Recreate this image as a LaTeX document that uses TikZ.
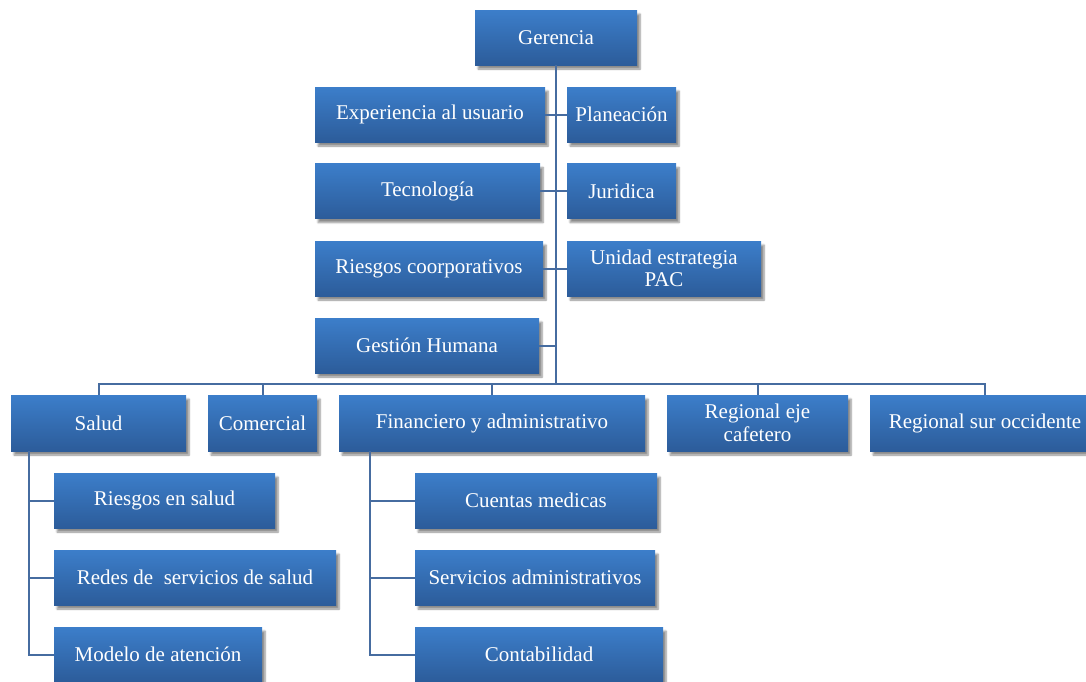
\documentclass[tikz,border=0pt]{standalone}
\usepackage{fontspec}
\setmainfont{Liberation Serif}
\usetikzlibrary{shadows.blur}
\definecolor{boxtop}{RGB}{60,126,202}
\definecolor{boxbot}{RGB}{44,92,154}
\definecolor{linkcol}{RGB}{70,108,160}
\tikzset{
  unit/.style={box, minimum height=55pt},
  box/.style={rectangle, inner sep=2pt, align=center, text=white,
    top color=boxtop, bottom color=boxbot, draw=none,
    font=\fontsize{21}{22.5}\selectfont,
    blur shadow={shadow xshift=3pt, shadow yshift=-4pt, shadow blur steps=6, shadow opacity=45}},
  link/.style={draw=linkcol, line width=2pt}
}
\begin{document}
\begin{tikzpicture}[x=1pt, y=-1pt]
\useasboundingbox (0,0) rectangle (1086,681);
\clip (0,0) rectangle (1086,681);

% top management and staff units
\node[unit, minimum width=162pt] (ger) at (556,37.5) {Gerencia};
\node[unit, minimum width=230pt] (exp) at (430,114.5) {Experiencia al usuario};
\node[unit, minimum width=109pt] (plan) at (621.5,114.5) {Planeación};
\node[unit, minimum width=225pt] (tec) at (427.5,191) {Tecnología};
\node[unit, minimum width=109pt] (jur) at (621.5,191) {Juridica};
\node[unit, minimum width=228pt] (rc) at (429,268.5) {Riesgos coorporativos};
\node[unit, minimum width=194pt] (pac) at (664,268.5) {Unidad estrategia\\PAC};
\node[unit, minimum width=224pt] (gh) at (427,345.5) {Gestión Humana};

% main divisions
\node[unit, minimum width=175pt, minimum height=56pt] (salud) at (98.5,423) {Salud};
\node[unit, minimum width=109pt, minimum height=56pt] (com) at (262.5,423) {Comercial};
\node[unit, minimum width=306pt, minimum height=56pt] (fin) at (492,423) {Financiero y administrativo};
\node[unit, minimum width=181pt, minimum height=56pt] (reje) at (757.5,423) {Regional eje\\cafetero};
\node[unit, minimum width=230pt, minimum height=56pt] (rsur) at (985,423) {Regional sur occidente};

% health sub-units
\node[unit, minimum width=221pt] (rsal) at (164.5,500.5) {Riesgos en salud};
\node[unit, minimum width=282pt] (redes) at (195,577.5) {Redes de \ servicios de salud};
\node[unit, minimum width=208pt] (mod) at (158,654.5) {Modelo de atención};

% finance sub-units
\node[unit, minimum width=242pt] (cm) at (536,500.5) {Cuentas medicas};
\node[unit, minimum width=240pt] (sa) at (535,577.5) {Servicios administrativos};
\node[unit, minimum width=248pt] (cont) at (539,654.5) {Contabilidad};

% trunk and bus
\coordinate (bus) at (556,384);
\draw[link] (ger.south) -- (bus);
\draw[link] (salud.north) -- (salud.north |- bus) -- (rsur.north |- bus) -- (rsur.north);
\draw[link] (com.north) -- (com.north |- bus);
\draw[link] (fin.north) -- (fin.north |- bus);
\draw[link] (reje.north) -- (reje.north |- bus);

% staff units hang off the trunk
\foreach \n in {exp,tec,rc,gh}
  \draw[link] (\n.east) -- (\n.east -| ger.south);
\foreach \n in {plan,jur,pac}
  \draw[link] (\n.west) -- (\n.west -| ger.south);

% sub-unit spines
\coordinate (sspine) at ([xshift=18pt]salud.south west);
\foreach \n in {rsal,redes,mod}
  \draw[link] (sspine) |- (\n.west);
\coordinate (fspine) at ([xshift=31pt]fin.south west);
\foreach \n in {cm,sa,cont}
  \draw[link] (fspine) |- (\n.west);
\end{tikzpicture}
\end{document}
